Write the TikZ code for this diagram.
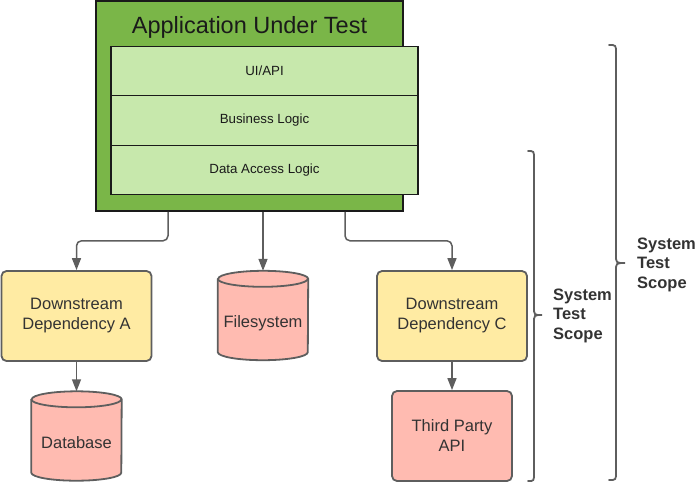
\documentclass[tikz,border=0pt]{standalone}
\usepackage{fontspec}
\setmainfont{Liberation Sans}
\usetikzlibrary{arrows.meta}
\definecolor{appgreen}{HTML}{7AB648}
\definecolor{layergreen}{HTML}{C7E8AC}
\definecolor{depyellow}{HTML}{FFEBA3}
\definecolor{extpink}{HTML}{FFBBB1}
\definecolor{edgegray}{HTML}{5E5E5E}
\definecolor{txtgray}{HTML}{333333}
\definecolor{darktxt}{HTML}{1A1A1A}
\tikzset{
  appbox/.style={draw=darktxt, line width=1.6pt, fill=appgreen, minimum width=307pt, minimum height=210pt, inner sep=0pt},
  layerbox/.style={draw=darktxt, line width=1.4pt, fill=layergreen, minimum width=307pt, minimum height=49.5pt, inner sep=0pt, text=darktxt, font=\fontsize{13.3}{16}\selectfont},
  depbox/.style={draw=edgegray, line width=1.8pt, fill=depyellow, rounded corners=5pt, minimum width=150pt, minimum height=90pt, inner sep=0pt, align=center, text=txtgray, font=\fontsize{16.5}{20}\selectfont},
  extbox/.style={depbox, fill=extpink},
  storearea/.style={minimum width=90pt, minimum height=89pt, inner sep=0pt},
  storeline/.style={draw=edgegray, line width=1.8pt, fill=extpink, line join=round},
  storetext/.style={inner sep=0pt, text=txtgray, font=\fontsize{16.5}{20}\selectfont},
  conn/.style={draw=edgegray, line width=1.5pt, rounded corners=5pt, -{Triangle[width=9pt,length=12pt]}},
  scopebrace/.style={draw=edgegray, line width=1.8pt, line cap=round},
  scopetext/.style={align=left, anchor=west, inner sep=0pt, text=txtgray, font=\fontsize{16.5}{19.5}\selectfont\bfseries},
}
\newcommand{\drawstore}[1]{%
  \path[storeline] ([yshift=-8pt]#1.north west) -- ([yshift=8pt]#1.south west)
    arc[start angle=180, end angle=360, x radius=45pt, y radius=8pt]
    -- ([yshift=-8pt]#1.north east)
    arc[start angle=0, end angle=180, x radius=45pt, y radius=8pt] -- cycle;
  \draw[storeline, fill=none] ([yshift=-8pt]#1.north west)
    arc[start angle=180, end angle=360, x radius=45pt, y radius=8pt];
}
\begin{document}
\begin{tikzpicture}[x=1pt,y=-1pt]
\useasboundingbox (0,0) rectangle (695,483);
% application under test
\node[appbox] (app) at (249.5,106) {};
\node[text=darktxt, font=\fontsize{23.5}{28}\selectfont, inner sep=0pt] (title) at (249.5,27.5) {Application Under Test};
\node[layerbox] (ui) at (264.5,71) {UI/API};
\node[layerbox] (biz) at (264.5,120.5) {Business Logic};
\node[layerbox] (dal) at (264.5,170) {Data Access Logic};
% dependencies
\node[depbox] (depA) at (76.5,316) {Downstream\\Dependency A};
\node[storearea] (fs) at (263,315.5) {};
\drawstore{fs}
\node[storetext] (fstext) at ([yshift=-7.5pt]fs.center) {Filesystem};
\node[depbox] (depC) at (452,316) {Downstream\\Dependency C};
\node[storearea] (db) at (76.5,436) {};
\drawstore{db}
\node[storetext] (dbtext) at ([yshift=-7pt]db.center) {Database};
\node[extbox, minimum width=120pt] (tp) at (452,436) {Third Party\\API};
% connectors
\draw[conn] ([xshift=-81.5pt]app.south) -- ++(0,29) -| (depA.north);
\draw[conn] ([xshift=13.5pt]app.south) -- (fs.north);
\draw[conn] ([xshift=95.5pt]app.south) -- ++(0,29) -| (depC.north);
\draw[conn] (depA.south) -- (db.north);
\draw[conn] (depC.south) -- (tp.north);
% scope braces
\draw[scopebrace] (528,151) .. controls (534,151) .. (534,159) -- (534,307) .. controls (534,315) .. (542,315) .. controls (534,315) .. (534,323) -- (534,473) .. controls (534,481) .. (528,481);
\draw[scopebrace] (609,45) .. controls (616,45) .. (616,53) -- (616,255) .. controls (616,263) .. (625,263) .. controls (616,263) .. (616,271) -- (616,472) .. controls (616,480) .. (609,480);
\node[scopetext] (scopeA) at (553,315.5) {System\\Test\\Scope};
\node[scopetext] (scopeB) at (637,264.5) {System\\Test\\Scope};
\end{tikzpicture}
\end{document}
